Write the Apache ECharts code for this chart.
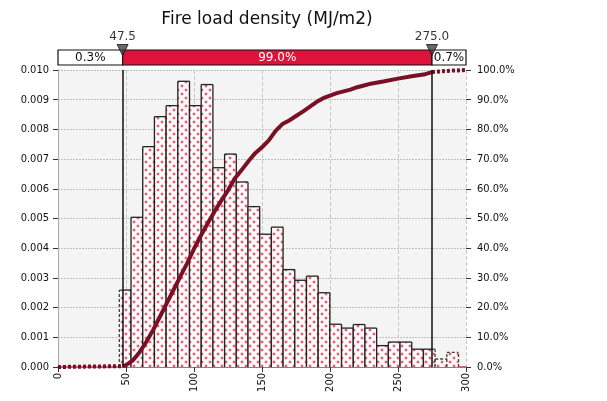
<!DOCTYPE html>
<html>
<head>
<meta charset="utf-8">
<script src="https://cdn.jsdelivr.net/npm/echarts@6/dist/echarts.min.js"></script>
<style>html,body{margin:0;padding:0;background:#fff}#c{width:607px;height:401px}</style>
</head>
<body>
<div id="c"></div>
<script>
// ---- data ----
var titleText = 'Fire load density (MJ/m2)';
var binStart = 45.1;
var binWidth = 8.6;
var density = [0.00259,0.00504,0.00742,0.00843,0.00880,0.00962,0.00880,0.00951,0.00671,0.00717,
               0.00623,0.00540,0.00447,0.00471,0.00328,0.00292,0.00306,0.00250,0.00144,0.00131,
               0.00143,0.00131,0.00072,0.00084,0.00084,0.00060,0.00060,0.00027,0.00049];
var cdfX = [0,47.5,50,55,60,65,70,75,80,85,90,95,100,105,110,115,120,125,130,135,140,145,150,155,160,165,170,175,180,185,190,195,200,205,210,215,220,225,230,240,250,260,270,275,280,290,300];
var cdfY = [0,0.003,0.006,0.022,0.05,0.085,0.125,0.17,0.215,0.26,0.305,0.35,0.398,0.442,0.483,0.523,0.56,0.595,0.635,0.663,0.693,0.72,0.74,0.763,0.795,0.818,0.83,0.845,0.86,0.876,0.892,0.905,0.914,0.922,0.928,0.934,0.942,0.948,0.954,0.962,0.971,0.979,0.986,0.993,0.995,0.998,1.0];
var lowCut = 47.5, highCut = 275.0;
var bandEdges = [0, 47.5, 275, 300];
var bandLabels = ['0.3%', '99.0%', '0.7%'];

// ---- pattern ----
var pc = document.createElement('canvas');
pc.width = 8; pc.height = 8;
var g = pc.getContext('2d');
g.fillStyle = '#fbf9f9'; g.fillRect(0,0,8,8);
[[2,2],[6,6]].forEach(function(p){
  g.fillStyle = 'rgba(230,60,90,0.35)'; g.beginPath(); g.arc(p[0],p[1],1.7,0,Math.PI*2); g.fill();
  g.fillStyle = '#e33d5c'; g.beginPath(); g.arc(p[0],p[1],1.0,0,Math.PI*2); g.fill();
});
var pattern = {image: pc, repeat: 'repeat'};

var histData = density.map(function(d,i){ var a = binStart + i*binWidth; return [a, a+binWidth, d]; });

function split(arrX, arrY, lo, hi) {
  var out = [];
  for (var i=0;i<arrX.length;i++) if (arrX[i]>=lo && arrX[i]<=hi) out.push([arrX[i], arrY[i]]);
  return out;
}
var cdfLeft = split(cdfX, cdfY, 0, lowCut);
var cdfMid = split(cdfX, cdfY, lowCut, highCut);
var cdfRight = split(cdfX, cdfY, highCut, 300);

var FONT = '"DejaVu Sans Condensed", "DejaVu Sans", sans-serif';
var chart = echarts.init(document.getElementById('c'), null, {renderer:'canvas'});

function histItem(params, api) {
  var x0 = api.value(0), x1 = api.value(1), h = api.value(2);
  var bl = api.coord([x0, 0]), tr = api.coord([x1, h]);
  var kids = [{type:'rect', shape:{x:bl[0], y:tr[1], width:tr[0]-bl[0], height:bl[1]-tr[1]}, style:{fill:pattern}}];
  function seg(xa, ya, xb, yb, dashed) {
    var a = api.coord([xa, ya]), b = api.coord([xb, yb]);
    kids.push({type:'line', shape:{x1:a[0], y1:a[1], x2:b[0], y2:b[1]},
      style:{stroke: dashed ? '#444' : '#222', lineWidth: 1.3, lineDash: dashed ? [3,2] : null}});
  }
  var sL = Math.max(x0, lowCut), sR = Math.min(x1, highCut);
  if (sR > sL) seg(sL, h, sR, h, false);
  if (x0 < lowCut) seg(x0, h, Math.min(x1, lowCut), h, true);
  if (x1 > highCut) seg(Math.max(x0, highCut), h, x1, h, true);
  seg(x0, 0, x0, h, x0 < lowCut || x0 > highCut);
  seg(x1, 0, x1, h, x1 > highCut || x1 < lowCut);
  return {type:'group', children:kids};
}

function bandItem(params, api) {
  var a = api.value(0), b = api.value(1), i = params.dataIndex;
  var p0 = api.coord([a, 0]), p1 = api.coord([b, 1]);
  var mid = i === 1;
  return {type:'group', children:[
    {type:'rect', shape:{x:p0[0], y:p1[1], width:p1[0]-p0[0], height:p0[1]-p1[1]},
     style:{fill: mid ? '#dc143c' : '#ffffff', stroke:'#111', lineWidth:1.2}},
    {type:'text', x:(p0[0]+p1[0])/2, y:(p0[1]+p1[1])/2,
     style:{text: bandLabels[i], fill: mid ? '#ffffff' : '#111', font:'12px "DejaVu Sans", sans-serif', align:'center', verticalAlign:'middle'}}
  ]};
}

var option = {
  animation: false,
  title: {text: titleText, left: 262, top: 6, textAlign: 'center',
          textStyle:{fontFamily:'"DejaVu Sans", sans-serif', fontSize:17, fontWeight:'normal', color:'#111'}},
  grid: [
    {left:58, top:70, width:408, height:297, show:true, backgroundColor:'#f4f4f4', borderWidth:0},
    {left:58, top:50, width:408, height:15}
  ],
  xAxis: [
    {type:'value', gridIndex:0, min:0, max:300, interval:50,
     axisLine:{show:true, onZero:false, lineStyle:{color:'#c23a5c', width:1.5}},
     axisTick:{show:true, length:5, lineStyle:{color:'#333'}},
     axisLabel:{rotate:90, margin:6, color:'#111', fontFamily:FONT, fontSize:11},
     splitLine:{show:true, lineStyle:{color:'#c8c8c8', type:[4,2], width:1}}},
    {type:'value', gridIndex:1, min:0, max:300, show:false}
  ],
  yAxis: [
    {type:'value', gridIndex:0, min:0, max:0.01, interval:0.001, position:'left', offset:2,
     axisLine:{show:true, lineStyle:{color:'#aaa'}},
     axisTick:{show:true, length:5, lineStyle:{color:'#333'}},
     axisLabel:{color:'#111', fontFamily:FONT, fontSize:11, margin:7, formatter:function(v){return v.toFixed(3);}},
     splitLine:{show:true, lineStyle:{color:'#c0c0c0', type:[2,1], width:1}}},
    {type:'value', gridIndex:0, min:0, max:1, interval:0.1, position:'right',
     axisLine:{show:false}, axisTick:{show:true, length:5, lineStyle:{color:'#333'}},
     axisLabel:{color:'#111', fontFamily:FONT, fontSize:11, margin:11, formatter:function(v){return (v*100).toFixed(1)+'%';}},
     splitLine:{show:false}},
    {type:'value', gridIndex:1, min:0, max:1, show:false}
  ],
  series: [
    {type:'custom', name:'hist', xAxisIndex:0, yAxisIndex:0, renderItem:histItem, data:histData,
     encode:{x:[0,1], y:2}, z:2,
     markLine:{silent:true, symbol:'none', label:{show:false}, animation:false,
       lineStyle:{color:'#111', width:1.5, type:'solid'},
       data:[{xAxis:lowCut},{xAxis:highCut}]}},
    {type:'line', xAxisIndex:0, yAxisIndex:1, data:cdfLeft, showSymbol:false, z:4,
     lineStyle:{color:'#7b0f26', width:4, type:[3,2]}},
    {type:'line', xAxisIndex:0, yAxisIndex:1, data:cdfMid, showSymbol:false, z:4,
     lineStyle:{color:'#7b0f26', width:4}},
    {type:'line', xAxisIndex:0, yAxisIndex:1, data:cdfRight, showSymbol:false, z:4,
     lineStyle:{color:'#7b0f26', width:4, type:[3,2]}},
    {type:'custom', xAxisIndex:1, yAxisIndex:2, renderItem:bandItem, clip:false, z:5,
     data:[[bandEdges[0],bandEdges[1]],[bandEdges[1],bandEdges[2]],[bandEdges[2],bandEdges[3]]],
     encode:{x:[0,1]}},
    {type:'scatter', xAxisIndex:1, yAxisIndex:2, z:6, clip:false,
     symbol:'triangle', symbolRotate:180, symbolSize:[11,11], symbolOffset:[0,0],
     itemStyle:{color:'#444', borderColor:'#111', borderWidth:1},
     label:{show:true, position:'top', distance:1, color:'#000', fontFamily:'"DejaVu Sans", sans-serif', fontSize:12,
            formatter:function(p){return p.value[0].toFixed(1);}},
     data:[[lowCut,1],[highCut,1]]}
  ]
};
chart.setOption(option);
</script>
</body>
</html>
